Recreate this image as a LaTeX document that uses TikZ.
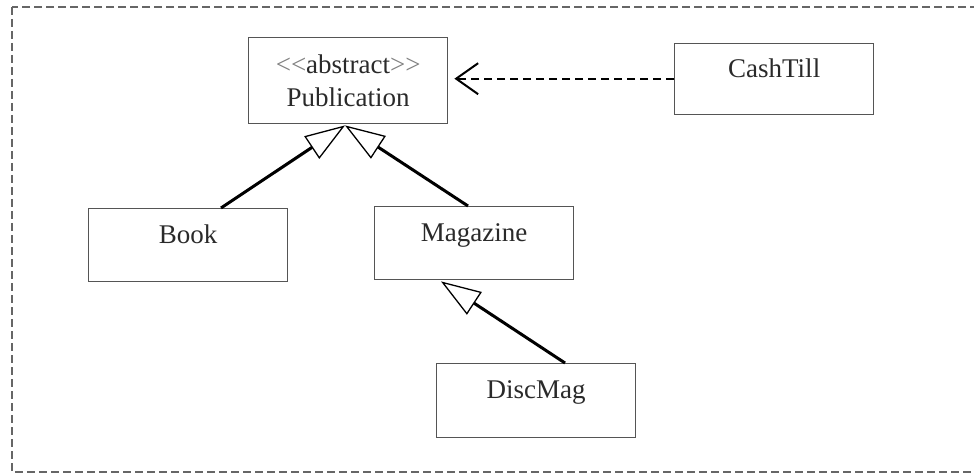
\documentclass[tikz,border=0pt]{standalone}
\usepackage{fontspec}
\setmainfont{Liberation Serif}
\usetikzlibrary{arrows.meta,calc}
\definecolor{boxline}{HTML}{555555}
\definecolor{txt}{HTML}{2A2A2A}
\definecolor{frameline}{HTML}{666666}
\tikzset{
  classbox/.style={draw=boxline, line width=1.4pt, rectangle, inner sep=0pt,
    minimum width=199pt, text height=35pt, text depth=38pt,
    font=\fontsize{27}{33}\selectfont, text=txt, anchor=north west},
  inh/.style={line width=3pt, -{Triangle[open, length=40pt, width=27pt, line width=1.3pt, fill=white]}},
  dep/.style={line width=2pt, dash pattern=on 8pt off 5pt, -{Straight Barb[length=22pt, width=31pt, line width=2pt]}}
}
\begin{document}
\begin{tikzpicture}[x=1pt,y=-1pt]
\useasboundingbox (0,0) rectangle (974,473);
\draw[frameline, line width=1.8pt, dash pattern=on 8pt off 4pt] (12,7) rectangle (990,472);

\node[draw=boxline, line width=1.4pt, rectangle, inner sep=0pt, minimum width=199pt,
  minimum height=86pt, align=center, font=\fontsize{27}{33}\selectfont, text=txt,
  anchor=north west] (pub) at (248,37) {\textcolor{gray}{<{}<}abstract\textcolor{gray}{>{}>}\\Publication};

\node[classbox, text height=34pt, text depth=37pt] (cash) at (674,43) {CashTill};
\node[classbox] (book) at (88,208) {Book};
\node[classbox] (mag) at (374,206) {Magazine};
\node[classbox, text height=35pt, text depth=39pt] (disc) at (436,363) {DiscMag};

\draw[inh] ($(book.north west)+(133,0)$) -- ($(pub.south west)+(97,1)$);
\draw[inh] ($(mag.north west)+(94,0)$) -- ($(pub.south west)+(97,1)$);
\draw[inh] ($(disc.north west)+(129,0)$) -- ($(mag.south west)+(67,1)$);
\draw[dep, shorten >=6pt] ($(cash.west)+(0,-0.5)$) -- ($(cash.west -| pub.east)+(0,-0.5)$);
\end{tikzpicture}
\end{document}
